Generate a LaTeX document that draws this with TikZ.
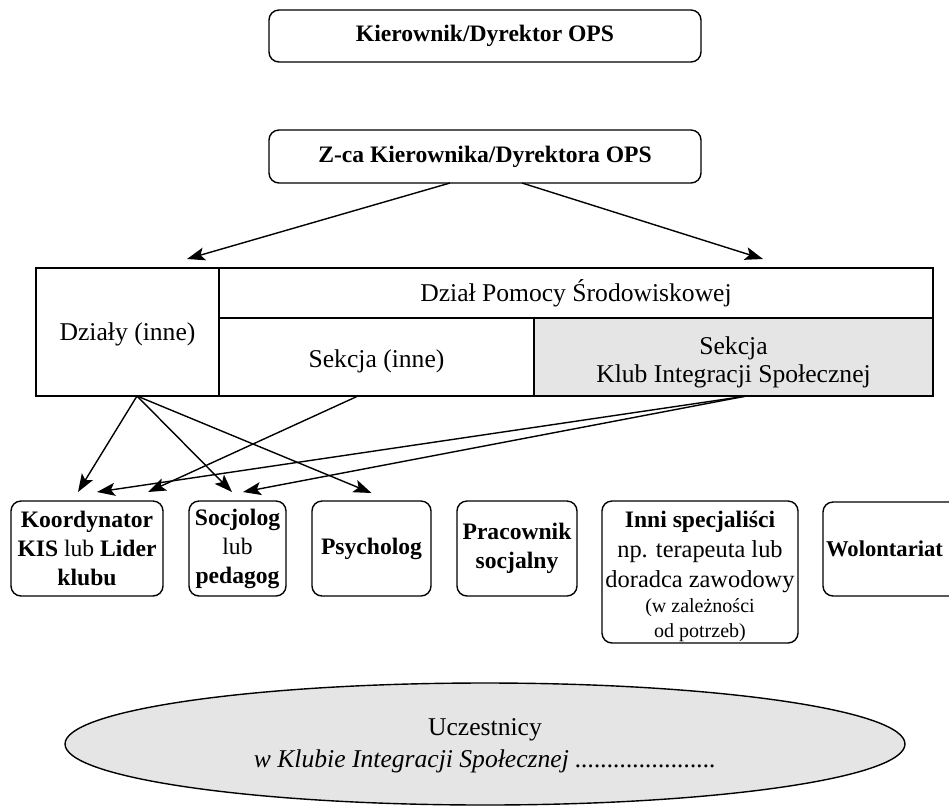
\documentclass[tikz,border=0pt]{standalone}
\usepackage{fontspec}
\setmainfont{Liberation Serif}
\usetikzlibrary{arrows.meta,shapes.geometric}
\begin{document}
\begin{tikzpicture}[x=0.5pt,y=-0.5pt,
  every node/.style={inner sep=0pt, outer sep=0pt},
  rbox/.style={draw, rounded corners=5pt, line width=0.7pt, align=center,
    font=\fontsize{11.8}{14.5}\selectfont\bfseries},
  cell/.style={draw, line width=0.7pt, align=center,
    font=\fontsize{12.8}{14}\selectfont},
  arr/.style={line width=0.7pt, -{Stealth[length=9pt,width=6.5pt,inset=2pt]}}
]
\useasboundingbox (0,0) rectangle (949,811);

% top boxes
\node[rbox, minimum width=216pt, minimum height=26pt] (dir) at (485,36) {Kierownik/Dyrektor OPS};
\node[rbox, minimum width=216pt, minimum height=26.5pt] (zca) at (485,156.5) {Z-ca Kierownika/Dyrektora OPS};

% table
\node[cell, minimum width=91.5pt, minimum height=64pt] (dzialy) at (127.5,332) {\rule{0pt}{11pt}Działy (inne)};
\node[cell, minimum width=357pt, minimum height=25pt] (dps) at (576,293) {Dział Pomocy Środowiskowej};
\node[cell, minimum width=157.5pt, minimum height=39pt] (sek) at (376.5,357) {\rule{0pt}{13.5pt}Sekcja (inne)};
\node[cell, fill=gray!20, minimum width=199.5pt, minimum height=39pt] (kis) at (733.5,357) {\rule{0pt}{14.5pt}Sekcja\\Klub Integracji Społecznej};

% bottom boxes
\node[rbox, minimum width=76pt, minimum height=47.5pt] (koord) at (87,548.5)
  {Koordynator\\KIS {\mdseries lub} Lider\\klubu};
\node[rbox, minimum width=48.5pt, minimum height=47.5pt] (socj) at (237.5,548.5)
  {Socjolog\\{\mdseries lub}\\pedagog};
\node[rbox, minimum width=59.5pt, minimum height=47.5pt] (psych) at (371.5,548.5) {Psycholog};
\node[rbox, minimum width=60pt, minimum height=47.5pt] (prac) at (517,548.5) {Pracownik\\socjalny};
\node[rbox, minimum width=98pt, minimum height=71pt, font=\fontsize{11.8}{15}\selectfont\bfseries] (inni) at (700,572)
  {\rule{0pt}{13pt}Inni specjaliści\\
   {\mdseries\fontsize{12.2}{15}\selectfont np. terapeuta lub}\\
   {\mdseries\fontsize{12.2}{15}\selectfont doradca zawodowy}\\[-2.5pt]
   {\mdseries\fontsize{10}{15}\selectfont (w zależności}\\[-2.5pt]
   {\mdseries\fontsize{10}{15}\selectfont od potrzeb)}};
\node[rbox, minimum width=68.5pt, minimum height=47pt, font=\fontsize{11.3}{14}\selectfont\bfseries] (wolo) at (891.5,549) {\hspace*{-7pt}Wolontariat};

% ellipse
\node[draw, ellipse, fill=gray!20, line width=0.7pt, minimum width=420pt, minimum height=61pt,
  align=center, font=\fontsize{12.8}{16}\selectfont] (ucz) at (485,744)
  {\rule{0pt}{10pt}Uczestnicy\\\itshape w Klubie Integracji Społecznej ......................};

% arrows from Z-ca
\coordinate (tl) at (187,259);
\coordinate (tr) at (763,259);
\draw[arr] ([xshift=-17.5pt]zca.south) -- (tl);
\draw[arr] ([xshift=18.5pt]zca.south) -- (tr);

% arrows to staff
\draw[arr] ([xshift=4.75pt]dzialy.south) -- ([xshift=-4.5pt,yshift=4.5pt]koord.north);
\draw[arr] ([xshift=4.75pt]dzialy.south) -- ([xshift=-2.75pt,yshift=4.5pt]socj.north);
\draw[arr] ([xshift=4.75pt]dzialy.south) -- ([xshift=0pt,yshift=4pt]psych.north);
\draw[arr] ([xshift=-9.25pt]sek.south) -- ([xshift=30.5pt,yshift=4.5pt]koord.north);
\draw[arr] ([xshift=6.5pt]kis.south) -- ([xshift=5pt,yshift=4.5pt]koord.north);
\draw[arr] ([xshift=6.5pt]kis.south) -- ([xshift=2.75pt,yshift=4.5pt]socj.north);
\end{tikzpicture}
\end{document}
